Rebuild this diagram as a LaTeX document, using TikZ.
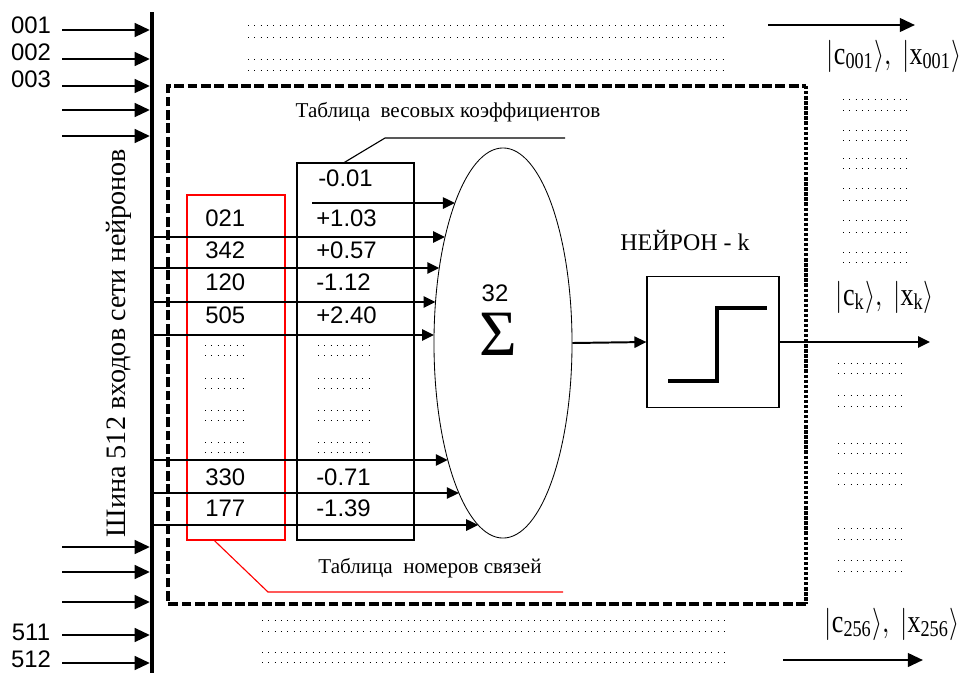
\documentclass[tikz,border=0pt]{standalone}
\usepackage{fontspec}
\setmainfont{Liberation Serif}
\newfontfamily\numfont{Liberation Sans}
\usetikzlibrary{arrows.meta,shapes.geometric}

\newcommand{\ketpair}[1]{\scalebox{1.85}[2.3]{$\left|\mathrm{c}_{\mathrm{#1}}\right\rangle\!,\ \left|\mathrm{x}_{\mathrm{#1}}\right\rangle$}}

\begin{document}
\begin{tikzpicture}[x=0.025cm, y=-0.025cm,
    inarr/.style={-{Triangle[length=3.8mm, width=3.4mm]}, line width=1.8pt},
    rowarr/.style={-{Triangle[length=3mm, width=2.8mm]}, line width=1.4pt},
    num/.style={font=\numfont\fontsize{17}{19}\selectfont, inner sep=0pt},
    lab/.style={font=\fontsize{15}{18}\selectfont, inner sep=0pt},
    ket/.style={inner sep=0pt},
    dots/.style={line width=0.7pt, dash pattern=on 0.7pt off 3.8pt},
    frame/.style={line width=2.2pt, dash pattern=on 7pt off 2.5pt}
]
    \useasboundingbox (0,0) rectangle (968,673);

    % bus of the network inputs
    \coordinate (bustop) at (152,12);
    \coordinate (busbot) at (152,673);
    \draw[line width=3pt] (bustop) -- (busbot);
    \node[lab, font=\fontsize{20}{22}\selectfont, rotate=90] (buslab) at (119,343)
        {Шина 512 входов сети нейронов};

    \foreach \y in {30,59,86,110,136,547,572,602,635,663}
        \draw[inarr, shorten >=1.5pt] (62,\y) -- (bustop |- 0,\y);
    \foreach \y/\t in {25/001,52/002,79/003,632/511,659/512}
        \node[num] (in\t) at (31,\y) {\t};

    % other neurons (dotted)
    \foreach \y in {25,37,59,70}
        \draw[dots] (248,\y) -- (727,\y);
    \foreach \y in {620,631,652,662}
        \draw[dots] (262,\y) -- (730,\y);
    \foreach \y in {99,110,130,140,158,168,188,200,220,232,252,262}
        \draw[dots] (843,\y) -- (908,\y);
    \foreach \y in {363,373,395,406,443,453,473,484,528,539,560,571}
        \draw[dots] (838,\y) -- (903,\y);

    % neuron k frame
    \draw[frame] (806,604) -- (168,604) -- (168,86) -- (806,86);
    \draw[line width=2.2pt, dash pattern=on 2.4pt off 1.2pt] (806,86) -- (806,604);
    \node[font=\fontsize{17}{20}\selectfont, inner sep=0pt] (nlab) at (685,240) {НЕЙРОН - k};

    % tables
    \node[draw=red, line width=0.8pt, minimum width=2.45cm, minimum height=8.625cm,
        inner sep=0pt] (numtab) at (236,367.5) {};
    \node[draw, line width=0.8pt, minimum width=2.925cm, minimum height=9.425cm,
        inner sep=0pt] (wtab) at (355.5,351.5) {};

    \node[num, anchor=west] (w0) at (318,178) {-0.01};
    \foreach \y/\a/\w in {218/021/+1.03, 250/342/+0.57, 282/120/-1.12,
                          315/505/+2.40, 477/330/-0.71, 508/177/-1.39}{
        \node[num, anchor=west] (n\a) at (205,\y) {\a};
        \node[num, anchor=west] at (316,\y) {\w};
    }
    \foreach \y in {345,355,378,388,410,420,442,452}{
        \draw[dots] (205,\y) -- (243,\y);
        \draw[dots] (318,\y) -- (372,\y);
    }

    % adder
    \node[draw, ellipse, line width=0.6pt, minimum width=3.45cm, minimum height=9.75cm,
        inner sep=0pt] (sum) at (503,343) {};
    \node[num] (cnt) at (495,293) {32};
    \node[font=\fontsize{46}{46}\selectfont, inner sep=0pt] (sig) at (498,334) {Σ};

    \pgfmathsetmacro\ez{503-69*sqrt(1-((203-343)/195)^2)}
    \draw[rowarr] (312,203) -- (\ez,203);
    \foreach \y in {237,268,302,335,460,493,525}{
        \pgfmathsetmacro\ex{503-69*sqrt(1-((\y-343)/195)^2)}
        \draw[rowarr] (bustop |- 0,\y) -- (\ex,\y);
    }

    % captions with leaders
    \node[lab] (wcap) at (448,112) {Таблица\ \ весовых коэффициентов};
    \node[lab] (ncap) at (430,568) {Таблица\ \ номеров связей};
    \draw[line width=0.8pt] ([xshift=1.2cm]wtab.north west) -- (385,138) -- (565,138);
    \draw[red, line width=0.8pt] ([xshift=0.7cm]numtab.south west) -- (268,592) -- (563,592);

    % threshold element
    \node[draw, line width=0.8pt, minimum width=3.3cm, minimum height=3.275cm,
        inner sep=0pt] (stepbox) at (713,342) {};
    \draw[line width=2.5pt] (668,381) -- (717,381) -- (717,308) -- (767,308);
    \draw[rowarr] (sum.east) -- (stepbox.west);

    % outputs
    \coordinate (outk) at (930,342);
    \coordinate (out1a) at (768,25);
    \coordinate (out1b) at (915,25);
    \coordinate (out2a) at (783,660);
    \coordinate (out2b) at (923,660);
    \draw[rowarr] (stepbox.east) -- (outk);
    \draw[inarr] (out1a) -- (out1b);
    \draw[inarr] (out2a) -- (out2b);
    \node[ket] (k1) at (894,56) {\ketpair{001}};
    \node[ket] (kk) at (885,297) {\ketpair{k}};
    \node[ket] (k2) at (892,624) {\ketpair{256}};
\end{tikzpicture}
\end{document}
